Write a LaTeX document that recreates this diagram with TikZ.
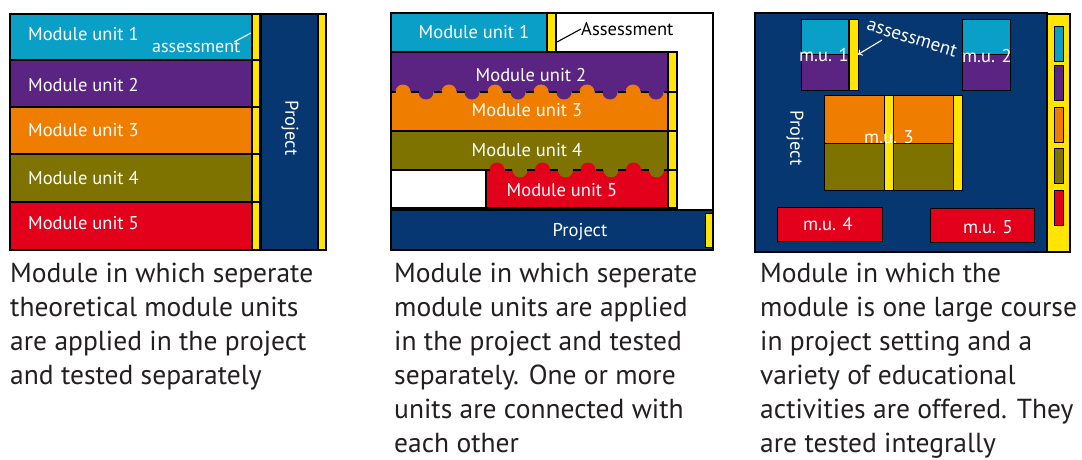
\documentclass[tikz,border=0pt]{standalone}
\usepackage{fontspec}
\setmainfont{PT Sans}
\usetikzlibrary{fit,arrows.meta,calc}
\definecolor{cy}{HTML}{0A9FC6}
\definecolor{pu}{HTML}{5B2483}
\definecolor{orn}{HTML}{EE7D00}
\definecolor{ol}{HTML}{7E7200}
\definecolor{rd}{HTML}{E2001A}
\definecolor{nv}{HTML}{063770}
\definecolor{yl}{HTML}{FFE500}
\definecolor{captxt}{HTML}{231F20}
\tikzset{
  bk/.style={inner sep=0pt, outer sep=0pt, draw=black, line width=1.2pt},
  fl/.style={inner sep=0pt, outer sep=0pt},
  thin/.style={inner sep=0pt, outer sep=0pt, draw=black, line width=0.8pt},
  lbl/.style={text=white, inner sep=0pt, font=\fontsize{18.5}{22}\selectfont},
  small/.style={text=white, inner sep=0pt, font=\fontsize{18}{22}\selectfont},
  leader/.style={line width=1.1pt},
  captext/.style={text=captxt, inner sep=0pt, align=left, anchor=north west, font=\fontsize{27.5}{34}\selectfont},
  edge/.style={line width=1.2pt}}
\begin{document}
\begin{tikzpicture}[x=1pt,y=-1pt]
\fill[white] (0,0) rectangle (1082,460);
\useasboundingbox (0,0) rectangle (1082,460);

% ---------------- Panel 1 ----------------
\node[bk, fit={(10,14)(252,60)}, fill=cy] (a1) {};
\node[bk, fit={(10,60)(252,107)}, fill=pu] (a2) {};
\node[bk, fit={(10,107)(252,154)}, fill=orn] (a3) {};
\node[bk, fit={(10,154)(252,202)}, fill=ol] (a4) {};
\node[bk, fit={(10,202)(252,250)}, fill=rd] (a5) {};
\node[bk, fit={(252,14)(260,60)}, fill=yl] (ay1) {};
\node[bk, fit={(252,60)(260,107)}, fill=yl] (ay2) {};
\node[bk, fit={(252,107)(260,154)}, fill=yl] (ay3) {};
\node[bk, fit={(252,154)(260,202)}, fill=yl] (ay4) {};
\node[bk, fit={(252,202)(260,250)}, fill=yl] (ay5) {};
\node[bk, fit={(261,14)(318,250)}, fill=nv] (ap) {};
\node[bk, fit={(318,14)(326,250)}, fill=yl] (apy) {};
\node[lbl, anchor=west] (t11) at (28,34) {Module unit 1};
\node[lbl, anchor=west] (t12) at (28,85) {Module unit 2};
\node[lbl, anchor=west] (t13) at (28,130) {Module unit 3};
\node[lbl, anchor=west] (t14) at (28,178) {Module unit 4};
\node[lbl, anchor=west] (t15) at (28,223) {Module unit 5};
\node[lbl, rotate=-90] (tp1) at (290,128) {Project};
\node[small, anchor=base west] (as1) at (152,53) {assessment};
\coordinate (as1a) at (234,42);
\coordinate (as1b) at (251,33);
\draw[leader, white] (as1a) -- (as1b);

% ---------------- Panel 2 ----------------
\node[bk, fit={(391,13)(713,250)}, fill=white] (b0) {};
\node[bk, fit={(391,13)(547,52)}, fill=cy] (b1) {};
\node[bk, fit={(547,13)(556,52)}, fill=yl] (b1y) {};
\node[fl, fit={(391,52)(668,92)}, fill=pu] (b2) {};
\node[fl, fit={(391,92)(668,131)}, fill=orn] (b3) {};
\foreach \k in {0,...,5} {
  \fill[orn] (403+46*\k,92) circle[radius=7.5];
  \fill[pu] (426+46*\k,92) circle[radius=7.5];
}
\draw[edge, dash pattern=on 8pt off 15pt, dash phase=3.5pt] (b2.south west) -- (b2.south east);
\draw[edge] (b2.north west) rectangle (b3.south east);
\node[fl, fit={(391,131)(668,170)}, fill=ol] (b4) {};
\node[fl, fit={(486,170)(668,208)}, fill=rd] (b5) {};
\node[bk, fit={(391,170)(486,208)}, fill=white] (b5w) {};
\foreach \k in {0,...,3} {
  \fill[rd] (497+45.5*\k,170) circle[radius=7.5];
  \fill[ol] (520+45.5*\k,170) circle[radius=7.5];
}
\draw[edge, dash pattern=on 7.75pt off 15pt, dash phase=4.25pt] (b5.north west) -- (b5.north east);
\draw[edge] (b4.north west) -- (b4.north east) -- (b5.south east) -- (b5.south west) -- (b5.north west) -- (b4.south west) -- cycle;
\node[bk, fit={(668,52)(677,92)}, fill=yl] (by2) {};
\node[bk, fit={(668,92)(677,131)}, fill=yl] (by3) {};
\node[bk, fit={(668,131)(677,170)}, fill=yl] (by4) {};
\node[bk, fit={(668,170)(677,208)}, fill=yl] (by5) {};
\node[bk, fit={(391,210)(713,250)}, fill=nv] (bp) {};
\node[thin, fit={(705,213)(712,247)}, fill=yl] (bpy) {};
\node[lbl] (t21) at (474,32) {Module unit 1};
\node[lbl] (t22) at (531,75) {Module unit 2};
\node[lbl] (t23) at (527,110) {Module unit 3};
\node[lbl] (t24) at (527,150) {Module unit 4};
\node[lbl] (t25) at (562,190) {Module unit 5};
\node[lbl] (tp2) at (580,232) {Project};
\node[lbl, text=black, anchor=west] (as2) at (581,29) {Assessment};
\coordinate (as2a) at (557,42);
\draw[leader] (as2a) -- (as2.west);

% ---------------- Panel 3 ----------------
\node[bk, fit={(755,13)(1047,252)}, fill=nv] (c0) {};
\node[bk, fit={(1047,14)(1070,252)}, fill=yl] (cyl) {};
\node[thin, fit={(1054,26)(1063,61)}, fill=cy] (s1) {};
\node[thin, fit={(1054,65)(1063,100)}, fill=pu] (s2) {};
\node[thin, fit={(1054,107)(1063,142)}, fill=orn] (s3) {};
\node[thin, fit={(1054,148)(1063,183)}, fill=ol] (s4) {};
\node[thin, fit={(1054,190)(1063,225)}, fill=rd] (s5) {};
\node[thin, fit={(801,19)(848,54)}, fill=cy] (m1a) {};
\node[thin, fit={(801,54)(848,90)}, fill=pu] (m1b) {};
\node[thin, fit={(849,19)(858,90)}, fill=yl] (m1y) {};
\node[thin, fit={(962,19)(1010,54)}, fill=cy] (m2a) {};
\node[thin, fit={(962,54)(1010,90)}, fill=pu] (m2b) {};
\node[thin, fit={(824,95)(884,143)}, fill=orn] (m3a) {};
\node[thin, fit={(824,143)(884,190)}, fill=ol] (m3b) {};
\node[thin, fit={(893,95)(953,143)}, fill=orn] (m3c) {};
\node[thin, fit={(893,143)(953,190)}, fill=ol] (m3d) {};
\node[thin, fit={(884,95)(893,190)}, fill=yl] (m3y1) {};
\node[thin, fit={(953,95)(962,190)}, fill=yl] (m3y2) {};
\node[thin, fit={(777,207)(882,241)}, fill=rd] (m4) {};
\node[thin, fit={(930,208)(1034,242)}, fill=rd] (m5) {};
\node[lbl] (t31) at (824,55) {m.u. 1};
\node[lbl] (t32) at (987,56) {m.u. 2};
\node[lbl] (t33) at (889,137) {m.u. 3};
\node[lbl] (t34) at (828,224) {m.u. 4};
\node[lbl] (t35) at (988,227) {m.u. 5};
\node[lbl, rotate=-90] (tp3) at (795,138) {Project};
\node[lbl, rotate=-17, font=\fontsize{19}{22}\selectfont] (as3) at (912,38) {assessment};
\coordinate (as3a) at (882,40);
\draw[leader, white, -{To[length=4pt,width=7pt]}] (as3a) -- (m1y.east);

% ---------------- Captions ----------------
\node[captext] (cap1) at (10,263) {Module in which seperate\\theoretical module units\\are applied in the project\\and tested separately};
\node[captext] (cap2) at (394,263) {Module in which seperate\\module units are applied\\in the project and tested\\separately. One or more\\units are connected with\\each other};
\node[captext] (cap3) at (760,263) {Module in which the\\module is one large course\\in project setting and a\\variety of educational\\activities are offered. They\\are tested integrally};
\end{tikzpicture}
\end{document}
